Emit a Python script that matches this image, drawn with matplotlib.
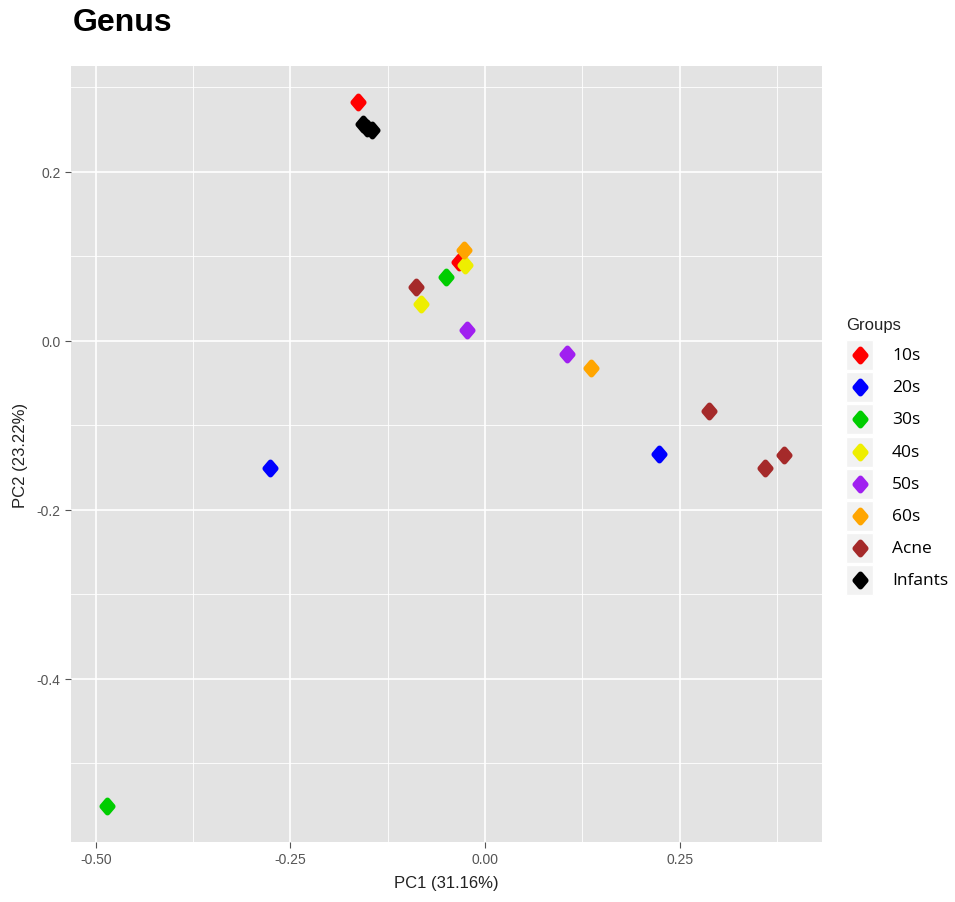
import matplotlib.pyplot as plt
from matplotlib.markers import MarkerStyle
from matplotlib.patches import Rectangle
from matplotlib.transforms import Affine2D

# PCA scores per group (genus level)
groups = ['10s', '20s', '30s', '40s', '50s', '60s', 'Acne', 'Infants']
colors = ['#FF0000', '#0000FF', '#00CD00', '#EEEE00', '#A020F0', '#FFA500', '#A52A2A', '#000000']
pc1 = {
    '10s': [-0.163, -0.034],
    '20s': [-0.276, 0.224],
    '30s': [-0.486, -0.050],
    '40s': [-0.082, -0.026],
    '50s': [-0.023, 0.105],
    '60s': [-0.027, 0.136],
    'Acne': [-0.089, 0.288, 0.360, 0.384],
    'Infants': [-0.157, -0.152, -0.145],
}
pc2 = {
    '10s': [0.283, 0.093],
    '20s': [-0.150, -0.134],
    '30s': [-0.550, 0.075],
    '40s': [0.043, 0.090],
    '50s': [0.013, -0.016],
    '60s': [0.107, -0.032],
    'Acne': [0.064, -0.083, -0.151, -0.135],
    'Infants': [0.256, 0.252, 0.249],
}

W, H = 955, 903
fig = plt.figure(figsize=(W / 100, H / 100), dpi=100)
plt.rcParams['font.family'] = ['Liberation Sans', 'DejaVu Sans']

ax = fig.add_axes([71 / W, 1 - 843 / H, (822 - 71) / W, (843 - 67) / H])
ax.set_facecolor('#E3E3E3')
for s in ax.spines.values():
    s.set_visible(False)

# slightly tall diamond with rounded corners, like ggplot shape 18
diamond = MarkerStyle('D', transform=Affine2D().scale(0.85, 1.0))
pt_kw = dict(s=40, marker=diamond, linewidths=4.0, joinstyle='round', zorder=3)
for g, c in zip(groups, colors):
    ax.scatter(pc1[g], pc2[g], color=c, edgecolors=c, **pt_kw)

ax.set_xlim(-0.532, 0.433)
ax.set_ylim(-0.593, 0.325)
ax.set_xticks([-0.5, -0.25, 0.0, 0.25])
ax.set_xticklabels(['-0.50', '-0.25', '0.00', '0.25'])
ax.set_yticks([-0.4, -0.2, 0.0, 0.2])
ax.set_yticklabels(['-0.4', '-0.2', '0.0', '0.2'])
ax.set_xticks([-0.375, -0.125, 0.125, 0.375], minor=True)
ax.set_yticks([-0.5, -0.3, -0.1, 0.1, 0.3], minor=True)
ax.grid(which='major', color='white', linewidth=1.2)
ax.grid(which='minor', color='white', linewidth=0.6)
ax.set_axisbelow(True)
ax.tick_params(which='major', length=4, color='#555555', labelcolor='#555555', labelsize=10)
ax.tick_params(which='minor', length=0)
ax.set_xlabel('PC1 (31.16%)', fontsize=12, color='#222222', labelpad=6)
ax.set_ylabel('PC2 (23.22%)', fontsize=12, color='#222222', labelpad=6)

fig.text(73 / W, 1 - 23 / H, 'Genus', fontsize=23, fontweight='bold', va='center', ha='left')

# legend drawn in its own axes, pixel coordinates
lg = fig.add_axes([840 / W, 1 - 600 / H, (W - 840) / W, (600 - 305) / H])
lg.set_xlim(840, W)
lg.set_ylim(600, 305)
lg.axis('off')
lg.text(846, 325, 'Groups', fontsize=12, va='center', ha='left', color='#222222')
for i, (g, c) in enumerate(zip(groups, colors)):
    yc = 356 + i * 32.2
    lg.add_patch(Rectangle((846, yc - 15), 27, 30, facecolor='#F2F2F2', edgecolor='white', linewidth=1))
    lg.scatter([859.5], [yc], color=c, edgecolors=c, **pt_kw)
    lg.text(892, yc, g, fontsize=12.5, va='center', ha='left', family=['Open Sans', 'DejaVu Sans'])

fig.savefig('out.png', dpi=100)
